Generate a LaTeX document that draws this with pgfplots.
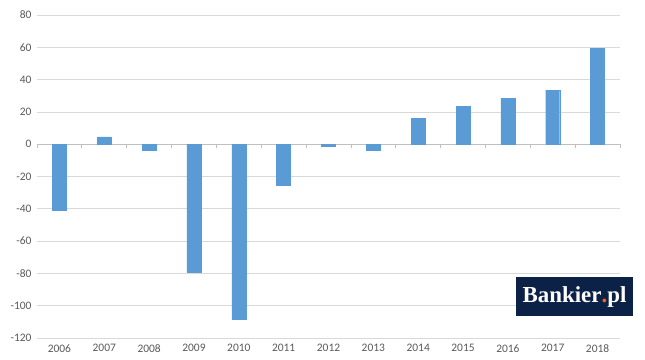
\documentclass[border=0pt]{standalone}
\usepackage{pgfplots}
\pgfplotsset{compat=1.18}
\usepackage{fontspec}
\setmainfont{Carlito}
\newfontfamily\logofont{Liberation Serif}
\definecolor{barblue}{HTML}{5B9BD5}
\definecolor{gridgray}{HTML}{D9D9D9}
\definecolor{axisgray}{HTML}{BFBFBF}
\definecolor{labelgray}{HTML}{595959}
\definecolor{navy}{HTML}{0B2145}
\definecolor{dotorange}{HTML}{F26522}
\pgfplotstableread{
x val
0 -41
1 4.5
2 -4
3 -79.5
4 -108.5
5 -25.5
6 -1
7 -3.5
8 16
9 23.5
10 28.5
11 33.5
12 59.5
}\datatable
\begin{document}
\begin{tikzpicture}[x=1bp,y=1bp]
\useasboundingbox (-37,-21) rectangle (608,338);
\begin{axis}[
  at={(0,0)}, anchor=south west,
  scale only axis, width=583bp, height=323bp,
  xmin=-0.5, xmax=12.5, ymin=-120, ymax=80,
  ytick={-120,-100,...,80},
  xtick={0,...,12},
  xticklabels={2006,2007,2008,2009,2010,2011,2012,2013,2014,2015,2016,2017,2018},
  ymajorgrids, grid style={gridgray, line width=0.8pt},
  axis line style={draw=none},
  major tick length=0pt,
  tick label style={font=\fontsize{11.5}{13}\selectfont, text=labelgray},
  /pgf/number format/assume math mode=true,
  yticklabel style={xshift=-2bp},
  xticklabel style={yshift=-3bp},
  clip=false,
]
\draw[axisgray, line width=0.8pt] (axis cs:-0.5,0) -- (axis cs:12.5,0);
\pgfplotsinvokeforeach{0,...,13}{
  \draw[axisgray, line width=0.8pt] (axis cs:#1-0.5,0) -- (axis cs:#1-0.5,-2.5);
}
\addplot[ybar, bar width=14bp, fill=barblue, draw=barblue, bar shift=0pt] table[x=x,y=val]{\datatable};
\end{axis}
\fill[navy] (479,22) rectangle (596,61);
\node[text=white, font=\logofont\bfseries\fontsize{23}{26}\selectfont, inner sep=0pt] at (537.5,41.5) {Bankier\textcolor{dotorange}{.}pl};
\end{tikzpicture}
\end{document}
